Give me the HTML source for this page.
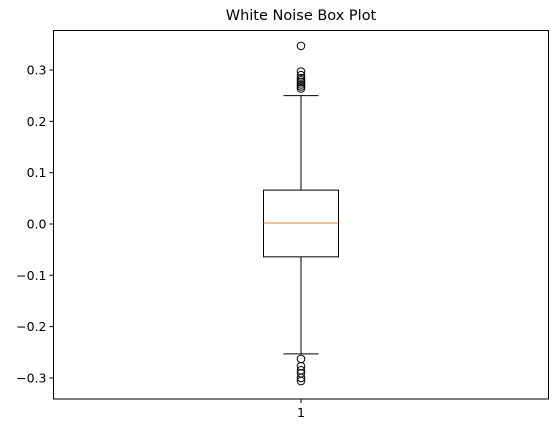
<!DOCTYPE html>
<html><head><meta charset="utf-8"><style>
html,body{margin:0;padding:0;background:#fff;}
svg{display:block;font-family:"DejaVu Sans","Liberation Sans",sans-serif;}
</style></head><body>
<svg id="chart" width="559" height="433" xmlns="http://www.w3.org/2000/svg"></svg>
<script>
const yTicks = [-0.3, -0.2, -0.1, 0.0, 0.1, 0.2, 0.3];
const yTickLabels = ["−0.3", "−0.2", "−0.1", "0.0", "0.1", "0.2", "0.3"];
const categories = ["1"];
const q1 = [-0.064];
const q3 = [0.066];
const median = [0.002];
const whiskerLow = [-0.253];
const whiskerHigh = [0.25];
const outliers = [0.347, 0.297, 0.29, 0.284, 0.28, 0.276, 0.272, 0.268, 0.264, -0.263, -0.277, -0.285, -0.291, -0.3, -0.306];

const NS = "http://www.w3.org/2000/svg";
const svg = document.getElementById("chart");
const L = 53.5, R = 548.5, T = 30.5, B = 399;
const yMin = -0.341, yMax = 0.377;
function y(v){ return B - (v - yMin) / (yMax - yMin) * (B - T); }
function x(i){ return L + (i + 0.5) / categories.length * (R - L); }
function el(tag, attrs, parent){
  const e = document.createElementNS(NS, tag);
  for (const k in attrs) e.setAttribute(k, attrs[k]);
  (parent || svg).appendChild(e);
  return e;
}

const title = el("text", {x: 301, y: 20, "text-anchor": "middle", "font-size": 14.5, fill: "#000"});


title.textContent = "White Noise Box Plot";

const frame = el("rect", {x: L, y: T, width: R - L, height: B - T, fill: "none", stroke: "#000", "stroke-width": 1});



yTicks.forEach((v, i) => {
  const g = el("g", {});
  
  
  el("line", {x1: L - 4, x2: L, y1: y(v), y2: y(v), stroke: "#000", "stroke-width": 1}, g);
  const t = el("text", {x: L - 7, y: y(v) + 4.5, "text-anchor": "end", "font-size": 12.5, fill: "#000"}, g);
  t.textContent = yTickLabels[i];
});

categories.forEach((c, i) => {
  const cx = x(i);
  const g = el("g", {});
  
  
  el("line", {x1: cx, x2: cx, y1: B, y2: B + 4, stroke: "#000", "stroke-width": 1}, g);
  const t = el("text", {x: cx, y: B + 18, "text-anchor": "middle", "font-size": 12.5, fill: "#000"}, g);
  t.textContent = c;

  const bw = 75, cw = 35;
  const box = el("g", {});
  
  
  el("line", {x1: cx, x2: cx, y1: y(q3[i]), y2: y(whiskerHigh[i]), stroke: "#000"}, box);
  el("line", {x1: cx, x2: cx, y1: y(q1[i]), y2: y(whiskerLow[i]), stroke: "#000"}, box);
  el("line", {x1: cx - cw/2, x2: cx + cw/2, y1: y(whiskerHigh[i]), y2: y(whiskerHigh[i]), stroke: "#000"}, box);
  el("line", {x1: cx - cw/2, x2: cx + cw/2, y1: y(whiskerLow[i]), y2: y(whiskerLow[i]), stroke: "#000"}, box);
  el("rect", {x: cx - bw/2, y: y(q3[i]), width: bw, height: y(q1[i]) - y(q3[i]), fill: "none", stroke: "#000"}, box);
  const med = el("line", {x1: cx - bw/2, x2: cx + bw/2, y1: y(median[i]), y2: y(median[i]), stroke: "#ff7f0e"}, box);
  
  
  outliers.forEach(v => {
    const o = el("circle", {cx: cx, cy: y(v), r: 3.8, fill: "none", stroke: "#000", "stroke-width": 1});
    
    
  });
});
</script>
</body></html>
